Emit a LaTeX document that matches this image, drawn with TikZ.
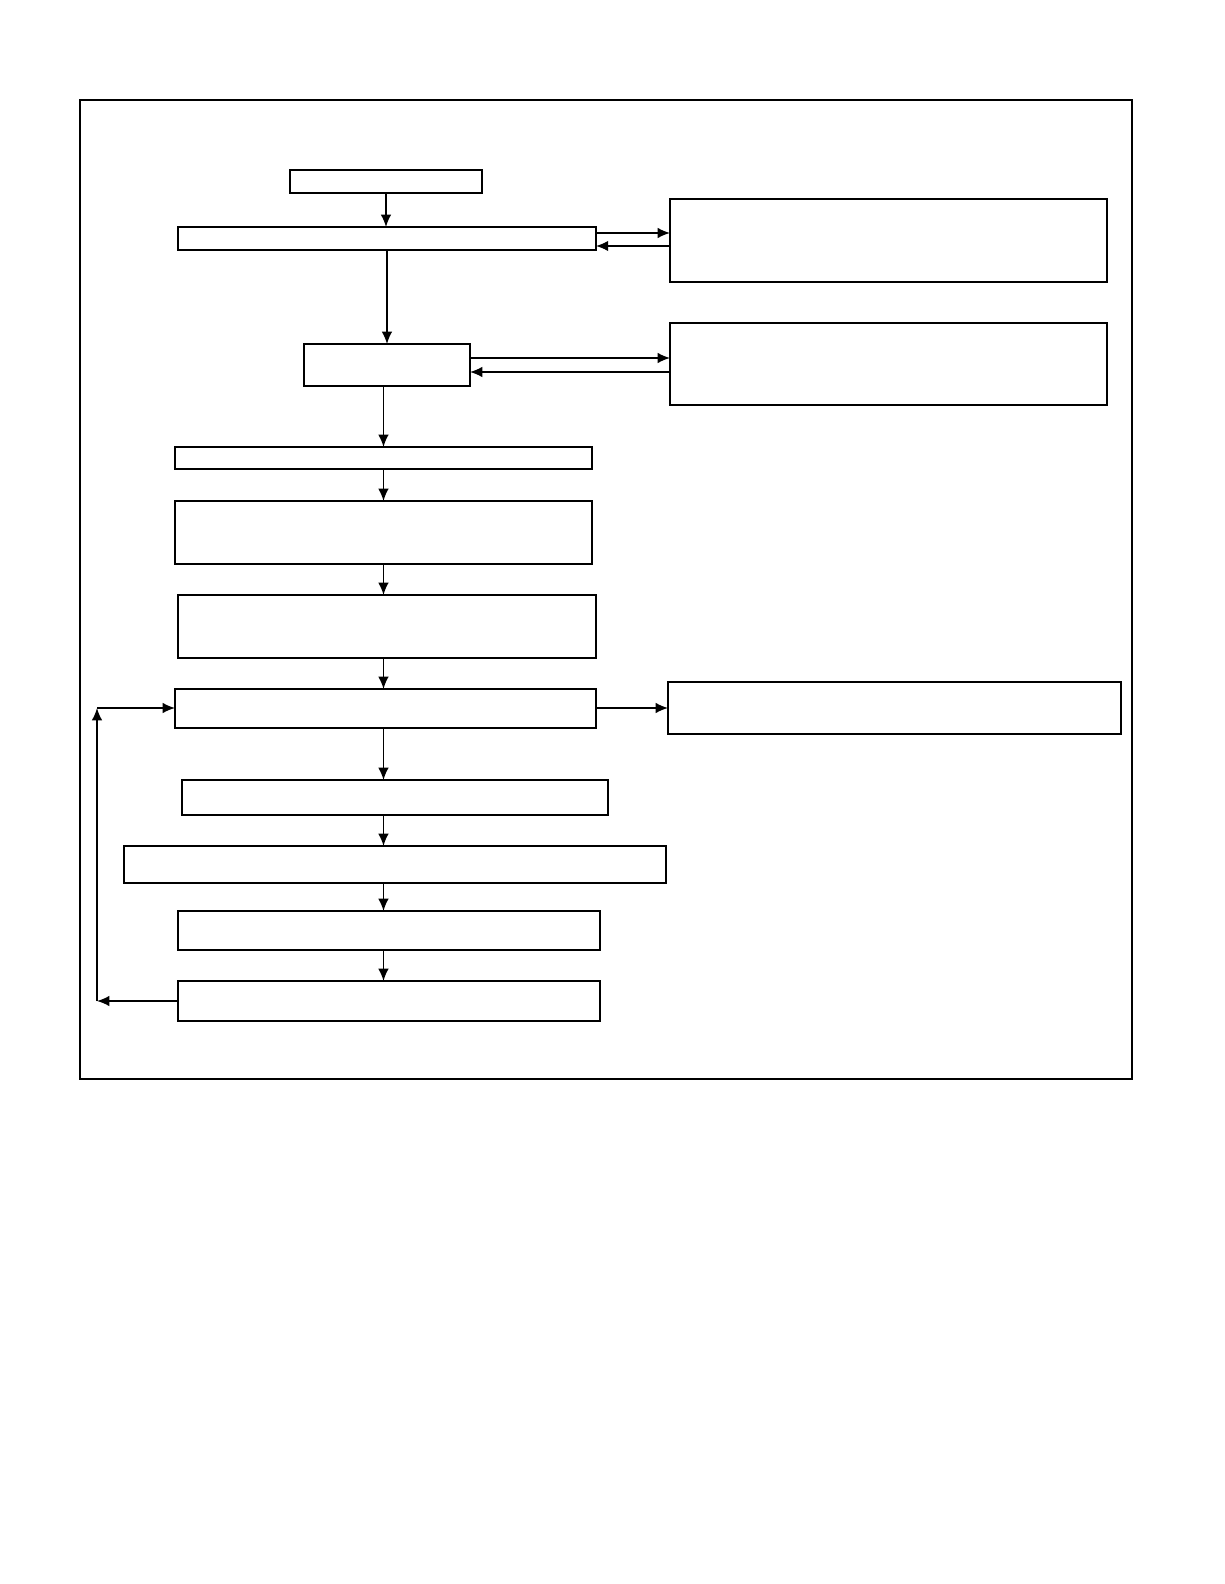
\documentclass[tikz,border=0pt]{standalone}
\usetikzlibrary{arrows.meta}
\begin{document}
\begin{tikzpicture}[x=0.02cm, y=-0.02cm,
    box/.style={draw, line width=0.9pt, inner sep=0pt, outer sep=0pt, anchor=north west},
    arr/.style={draw, line width=0.9pt, -{Latex[length=7pt,width=6pt]}}]
\useasboundingbox (0,0) rectangle (1224,1584);
% Frame
\draw[line width=0.9pt] (80,100) rectangle (1132,1079);
% Main column
\node (b1) [box, minimum width=3.84cm, minimum height=0.46cm] at (290,170) {};
\node (b2) [box, minimum width=8.36cm, minimum height=0.46cm] at (178,227) {};
\node (b3) [box, minimum width=3.32cm, minimum height=0.84cm] at (304,344) {};
\node (b4) [box, minimum width=8.34cm, minimum height=0.44cm] at (175,447) {};
\node (b5) [box, minimum width=8.34cm, minimum height=1.26cm] at (175,501) {};
\node (b6) [box, minimum width=8.36cm, minimum height=1.26cm] at (178,595) {};
\node (b7) [box, minimum width=8.42cm, minimum height=0.78cm] at (175,689) {};
\node (b8) [box, minimum width=8.52cm, minimum height=0.70cm] at (182,780) {};
\node (b9) [box, minimum width=10.84cm, minimum height=0.74cm] at (124,846) {};
\node (b10) [box, minimum width=8.44cm, minimum height=0.78cm] at (178,911) {};
\node (b11) [box, minimum width=8.44cm, minimum height=0.80cm] at (178,981) {};
% Right column
\node (r1) [box, minimum width=8.74cm, minimum height=1.66cm] at (670,199) {};
\node (r2) [box, minimum width=8.74cm, minimum height=1.64cm] at (670,323) {};
\node (r3) [box, minimum width=9.06cm, minimum height=1.04cm] at (668,682) {};
% Downward arrows
\draw[arr] (b1.south) -- (b1.south |- b2.north);
\draw[arr] (b2.south) -- (b2.south |- b3.north);
\draw[arr] (b3.south -| b4.north) -- (b4.north);
\draw[arr] (b4.south) -- (b5.north);
\draw[arr] (b5.south) -- (b5.south |- b6.north);
\draw[arr] (b6.south -| b4.north) -- (b7.north -| b4.north);
\draw[arr] (b7.south -| b4.north) -- (b8.north -| b4.north);
\draw[arr] (b8.south -| b4.north) -- (b9.north -| b4.north);
\draw[arr] (b9.south -| b4.north) -- (b10.north -| b4.north);
\draw[arr] (b10.south -| b4.north) -- (b11.north -| b4.north);
% Side exchanges
\draw[arr] (b2.east |- 0,233) -- (r1.west |- 0,233);
\draw[arr] (r1.west |- 0,246) -- (b2.east |- 0,246);
\draw[arr] (b3.east |- 0,358) -- (r2.west |- 0,358);
\draw[arr] (r2.west |- 0,372) -- (b3.east |- 0,372);
\draw[arr] (b7.east |- r3.west) -- (r3.west);
% Feedback loop
\coordinate (lb) at (97,1001);
\coordinate (lt) at (97,708);
\draw[arr] (b11.west |- lb) -- (lb);
\draw[arr] (lb) -- (lt);
\draw[arr] (lt) -- (b7.west |- lt);
\end{tikzpicture}
\end{document}
